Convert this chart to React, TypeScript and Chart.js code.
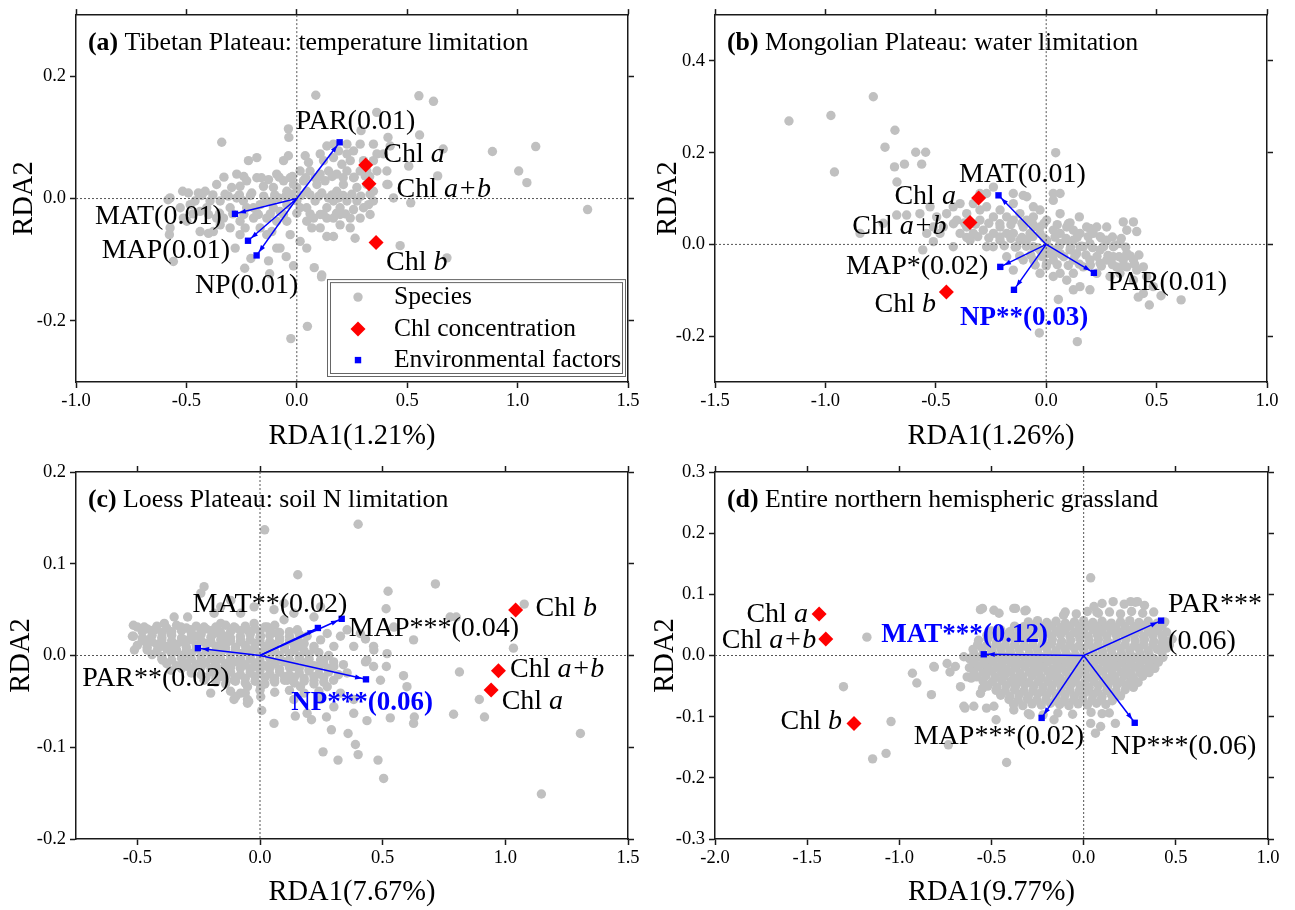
import React, { useEffect, useRef } from "react";
import { Chart, registerables } from "chart.js";

Chart.register(...registerables);

type Pt = [number, number];
type Seg = { t: string; i?: boolean; b?: boolean };
type Lab = { segs: Seg[]; x: number; y: number; align: "left" | "right"; blue?: boolean };

const FONT = '"Liberation Serif", "Times New Roman", serif';
const W = 1295;
const H = 910;
const BLUE = "#0000ff";
const RED = "#ff0000";
const GRAY = "#c0c0c0";

// ---------------- Panel (a) Tibetan Plateau ----------------
const xTicksA = [-1.0, -0.5, 0.0, 0.5, 1.0, 1.5];
const yTicksA = [-0.2, 0.0, 0.2];
const chlA: Pt[] = [[0.312, 0.055], [0.327, 0.024], [0.359, -0.072]];
const envNamesA = ["PAR", "MAT", "MAP", "NP"];
const envA: Pt[] = [[0.194, 0.092], [-0.28, -0.025], [-0.221, -0.069], [-0.182, -0.093]];
const speciesA: Pt[] = [
  [0.086, 0.169], [0.553, 0.168], [0.619, 0.159], [0.362, 0.141], [-0.038, 0.114], [-0.036, 0.1], [-0.34, 0.092],
  [0.291, 0.111], [0.413, 0.1], [0.556, 0.104], [0.663, 0.081], [0.886, 0.077], [1.082, 0.085], [1.005, 0.045],
  [1.042, 0.026], [1.317, -0.018], [0.516, -0.007], [0.507, 0.053], [0.638, 0.037], [0.413, 0.023], [0.68, -0.097],
  [0.468, -0.077], [0.264, -0.065], [0.112, -0.128], [0.048, -0.209], [-0.027, -0.229], [-0.048, -0.095],
  [-0.123, -0.123], [-0.236, -0.114], [-0.574, -0.048], [-0.583, -0.002], [-0.517, 0.012], [-0.559, -0.103],
  [-0.577, -0.059], [-0.574, 0.001],
  [-0.446, 0.009], [-0.415, 0.012], [-0.363, 0.023], [-0.347, -0.004], [-0.295, 0.018], [-0.272, 0.04], [-0.257, 0.02],
  [-0.227, 0.029], [-0.204, 0.009], [-0.181, 0.034], [-0.151, 0.02], [-0.128, 0.031], [-0.106, 0.018], [-0.091, 0.04],
  [-0.06, 0.029], [-0.045, 0.012], [-0.03, 0.034], [-0.015, 0.023], [0.015, 0.045], [0.03, 0.029], [0.045, 0.012],
  [0.06, 0.045], [0.091, 0.023], [0.106, 0.04], [0.121, 0.062], [0.144, 0.045], [0.166, 0.067], [0.181, 0.04],
  [0.204, 0.056], [0.227, 0.045], [0.242, 0.062], [0.257, 0.034], [0.272, 0.018], [0.287, 0.045], [0.317, 0.023],
  [0.347, -0.004], [0.227, -0.004], [0.196, -0.015], [0.166, -0.004], [0.136, -0.015], [0.106, -0.026], [0.076, -0.032],
  [0.045, -0.015], [0.015, -0.015], [-0.045, -0.01], [-0.076, -0.021], [-0.106, -0.015], [-0.136, -0.004],
  [-0.166, -0.01], [-0.196, -0.015], [-0.227, -0.015], [-0.257, -0.037], [-0.302, -0.015], [-0.332, -0.032],
  [-0.363, -0.032], [-0.408, -0.015], [-0.438, -0.021], [-0.483, -0.01], [-0.514, -0.032], [-0.4, -0.057],
  [-0.347, -0.043], [-0.196, -0.032], [-0.166, -0.048], [-0.136, -0.059], [-0.113, -0.054], [-0.091, -0.037],
  [-0.076, -0.081], [-0.03, -0.059], [-0.045, -0.037], [0.045, -0.037], [0.068, -0.048], [0.106, -0.048],
  [0.166, -0.032], [0.196, -0.026], [0.242, -0.032], [0.196, -0.043], [0.242, -0.048], [0.332, 0.007], [0.325, -0.01],
  [0.363, 0.045], [0.408, 0.045], [0.393, 0.073], [0.423, 0.086], [0.166, 0.089], [0.189, 0.078], [0.038, 0.07],
  [0.053, 0.059], [-0.038, 0.07], [-0.06, 0.062], [-0.181, 0.067], [-0.219, 0.062], [0.332, -0.026], [0.136, -0.062],
  [0.166, -0.062], [-0.015, -0.11], [0.079, -0.113], [0.113, -0.125], [-0.128, -0.102], [-0.208, -0.098],
  [-0.279, -0.081], [-0.378, -0.054], [-0.498, -0.037], [-0.438, -0.054], [-0.257, -0.059], [-0.302, -0.048],
  [-0.091, -0.081], [0.015, -0.07], [0.045, -0.081], [0.408, 0.023], [0.438, 0.001], [0.347, 0.012], [0.302, 0.062],
  [0.31, 0.037], [0.257, 0.078], [0.287, 0.089], [0.347, 0.089], [0.227, 0.073],
  [-0.083, 0.001], [-0.023, 0.007], [0.0, -0.004], [0.083, -0.004], [0.113, 0.009], [0.143, 0.001], [0.181, 0.012],
  [0.211, 0.023], [0.249, 0.007], [0.272, -0.004], [0.302, -0.015], [0.128, 0.029], [0.083, 0.034], [0.0, 0.018],
  [-0.113, -0.004], [-0.272, 0.001], [-0.325, 0.007], [-0.393, -0.004], [-0.461, -0.004], [-0.528, -0.015],
  [-0.491, 0.009], [-0.242, -0.004], [-0.174, -0.026], [-0.136, -0.032], [-0.234, -0.048], [0.189, 0.001],
  [0.257, -0.018], [0.287, -0.032], [0.136, -0.032], [0.106, 0.073], [0.136, 0.086], [0.227, 0.089], [0.317, 0.045],
  [0.347, 0.062], [0.363, 0.073],
  [-0.43, 0.005], [-0.38, 0.006], [-0.31, 0.004], [-0.26, 0.006], [-0.21, 0.005], [-0.15, 0.004], [-0.1, 0.006],
  [-0.05, 0.004], [0.02, 0.005], [0.06, 0.006], [0.1, 0.004], [0.16, 0.006], [0.21, 0.005], [0.29, 0.004],
  [-0.47, -0.025], [-0.4, -0.026], [-0.35, -0.024], [-0.29, -0.025], [-0.24, -0.026], [-0.18, -0.024],
  [-0.12, -0.025], [-0.06, -0.026], [0.0, -0.024], [0.06, -0.025], [0.12, -0.026], [0.18, -0.024], [0.22, -0.025],
  [-0.33, 0.035], [-0.24, 0.036], [-0.16, 0.034], [-0.08, 0.035], [-0.02, 0.036], [0.04, 0.034], [0.1, 0.035],
  [0.16, 0.036], [0.21, 0.034], [0.26, 0.035], [0.33, 0.036],
];

// ---------------- Panel (b) Mongolian Plateau ----------------
const xTicksB = [-1.5, -1.0, -0.5, 0.0, 0.5, 1.0];
const yTicksB = [-0.2, 0.0, 0.2, 0.4];
const chlB: Pt[] = [[-0.306, 0.101], [-0.345, 0.048], [-0.452, -0.104]];
const envNamesB = ["MAT", "MAP", "NP", "PAR"];
const envB: Pt[] = [[-0.216, 0.107], [-0.208, -0.049], [-0.146, -0.099], [0.216, -0.062]];
const speciesB: Pt[] = [
  [-1.165, 0.269], [-0.975, 0.281], [-0.783, 0.322], [-0.959, 0.158], [-0.685, 0.249], [-0.73, 0.212], [-0.591, 0.201],
  [-0.546, 0.201], [-0.642, 0.175], [-0.687, 0.169], [-0.564, 0.175], [-0.676, 0.136], [0.043, 0.2], [0.141, -0.212],
  [0.055, -0.12], [-0.031, -0.193], [0.611, -0.121], [0.52, -0.112], [0.467, -0.132], [0.417, -0.115], [0.395, 0.049],
  [0.41, 0.028], [-0.843, 0.024],
  [-0.677, 0.064], [-0.632, 0.064], [-0.572, 0.067], [-0.526, 0.082], [-0.496, 0.06], [-0.541, 0.024], [-0.511, 0.006],
  [-0.559, -0.012], [-0.451, 0.067], [-0.421, 0.082], [-0.39, 0.089], [-0.36, 0.067], [-0.33, 0.089], [-0.3, 0.075],
  [-0.39, 0.024], [-0.33, 0.024], [-0.3, 0.053], [-0.27, 0.082], [-0.239, 0.06], [-0.209, 0.038], [-0.179, 0.024],
  [-0.149, 0.089], [-0.119, 0.067], [-0.088, 0.104], [-0.104, 0.038], [-0.073, 0.024], [-0.058, 0.06], [-0.028, 0.038],
  [0.002, 0.053], [0.032, 0.031], [0.063, 0.024], [0.093, 0.038], [0.108, 0.047], [0.15, 0.06], [0.123, 0.009],
  [0.063, 0.002], [0.032, -0.012], [-0.028, -0.012], [-0.058, -0.005], [-0.088, 0.009], [-0.134, -0.005],
  [-0.179, -0.027], [-0.149, -0.056], [-0.104, -0.034], [-0.058, -0.034], [-0.028, -0.063], [0.002, -0.041],
  [0.032, -0.034], [0.063, -0.02], [0.108, -0.012], [0.138, -0.02], [0.168, -0.005], [0.198, 0.002], [0.213, 0.024],
  [0.244, 0.017], [0.274, 0.009], [0.304, -0.005], [0.334, 0.002], [0.365, -0.02], [0.349, -0.034], [0.395, -0.034],
  [0.41, -0.056], [0.44, -0.049], [0.455, -0.07], [0.485, -0.092], [0.274, -0.034], [0.244, -0.041], [0.198, -0.034],
  [0.168, -0.049], [0.123, -0.063], [0.093, -0.078], [0.153, -0.092], [0.198, -0.099], [0.123, -0.099], [0.063, -0.063],
  [0.032, -0.07], [0.229, 0.038], [0.274, 0.038], [0.365, 0.031], [0.198, 0.035], [0.349, 0.049], [-0.481, 0.024],
  [-0.421, -0.005], [-0.345, 0.009], [-0.27, -0.005], [-0.239, 0.024], [-0.209, 0.075], [-0.27, 0.111],
  [-0.239, 0.125], [-0.104, 0.107], [0.032, 0.111], [0.063, 0.111], [0.032, 0.096], [-0.058, 0.082], [-0.149, 0.053],
  [0.289, -0.07], [0.334, -0.063], [0.395, -0.078], [0.44, -0.107], [0.063, 0.067], [-0.028, 0.075], [0.123, 0.031],
  [-0.738, 0.046], [-0.511, 0.038],
  [-0.028, 0.024], [0.002, 0.009], [-0.058, 0.038], [-0.088, 0.053], [-0.149, 0.024], [-0.119, 0.009], [0.002, -0.02],
  [0.093, 0.009], [0.153, 0.024], [0.183, 0.038], [0.123, -0.034], [0.153, -0.005], [0.244, -0.012], [0.304, -0.027],
  [0.319, -0.049], [0.365, -0.049], [0.229, -0.063], [-0.209, 0.009], [-0.285, 0.031], [-0.36, 0.038], [-0.405, 0.053],
  [-0.466, 0.038], [-0.179, 0.06], [-0.149, 0.111], [-0.3, 0.111],
  [-0.42, 0.045], [-0.37, 0.047], [-0.32, 0.044], [-0.26, 0.046], [-0.21, 0.045], [-0.16, 0.043], [-0.11, 0.046],
  [-0.06, 0.044], [-0.01, 0.046], [0.05, 0.043], [0.1, 0.045],
  [-0.36, 0.015], [-0.31, 0.017], [-0.26, 0.014], [-0.21, 0.016], [-0.16, 0.013], [-0.11, 0.015], [-0.06, 0.017],
  [-0.01, 0.014], [0.04, 0.016], [0.09, 0.013], [0.14, 0.015], [0.19, 0.017], [0.25, 0.014], [0.3, 0.016],
  [0.34, 0.013],
  [-0.24, -0.005], [-0.19, -0.003], [-0.14, -0.006], [-0.09, -0.004], [-0.04, -0.007], [0.01, -0.005],
  [0.06, -0.003], [0.11, -0.006], [0.16, -0.004], [0.21, -0.007], [0.26, -0.005], [0.31, -0.003], [0.36, -0.006],
  [-0.12, -0.025], [-0.07, -0.023], [-0.02, -0.026], [0.03, -0.024], [0.08, -0.027], [0.13, -0.025],
  [0.18, -0.023], [0.23, -0.026], [0.28, -0.024], [0.33, -0.027], [0.38, -0.025], [0.42, -0.023],
  [-0.05, -0.045], [0.0, -0.047], [0.05, -0.044], [0.1, -0.046], [0.15, -0.043], [0.2, -0.045], [0.25, -0.047],
  [0.3, -0.044], [0.35, -0.046], [0.4, -0.043],
];

// ---------------- Panel (c) Loess Plateau ----------------
const xTicksC = [-0.5, 0.0, 0.5, 1.0, 1.5];
const yTicksC = [-0.2, -0.1, 0.0, 0.1, 0.2];
const chlC: Pt[] = [[0.942, -0.0375], [0.972, -0.0165], [1.042, 0.0495]];
const envNamesC = ["PAR", "MAT", "MAP", "NP"];
const envC: Pt[] = [[-0.253, 0.008], [0.236, 0.03], [0.333, 0.04], [0.432, -0.026]];
const speciesC: Pt[] = [
  [0.019, 0.137], [0.4, 0.143], [0.154, 0.088], [0.715, 0.078], [0.522, 0.07], [0.514, 0.051], [-0.228, 0.075],
  [1.077, 0.056], [1.033, 0.008], [0.813, -0.018], [0.585, -0.022], [0.789, -0.064], [0.894, -0.048], [0.915, -0.067],
  [1.306, -0.085], [0.629, -0.067], [0.626, -0.074], [0.436, -0.071], [0.504, -0.134], [0.481, -0.114], [0.4, -0.108],
  [0.389, -0.097], [0.359, -0.085], [0.291, -0.081], [0.318, -0.114], [0.257, -0.105], [0.21, -0.07], [0.271, -0.067],
  [0.057, -0.074], [0.007, -0.06], [-0.051, -0.048], [-0.099, -0.045], [1.147, -0.151], [0.531, -0.068],
  [0.144, -0.066], [0.8, 0.042], [0.43, -0.007], [0.515, -0.012], [0.464, 0.006], [0.43, 0.018], [-0.046, -0.05],
  [-0.516, 0.033], [-0.516, 0.021], [-0.512, 0.006], [-0.472, 0.031], [-0.458, 0.017], [-0.431, 0.028], [-0.404, 0.01],
  [-0.397, -0.005], [-0.39, 0.035], [-0.363, 0.024], [-0.35, 0.01], [-0.322, 0.031], [-0.309, 0.017], [-0.295, 0.002],
  [-0.282, 0.028], [-0.255, 0.021], [-0.228, 0.031], [-0.214, 0.013], [-0.187, 0.024], [-0.16, 0.035], [-0.16, 0.01],
  [-0.133, 0.021], [-0.106, 0.031], [-0.079, 0.017], [-0.051, 0.028], [-0.038, 0.006], [-0.024, 0.035], [0.003, 0.021],
  [0.03, 0.031], [0.043, 0.01], [0.07, 0.024], [0.098, 0.039], [0.125, 0.017], [0.152, 0.028], [0.165, 0.01],
  [0.192, 0.021], [0.22, 0.042], [0.247, 0.017], [0.274, 0.024], [0.301, 0.01], [0.328, 0.021], [0.355, 0.028],
  [0.382, 0.01], [0.409, 0.024], [0.436, -0.005], [0.463, -0.012], [-0.295, -0.012], [-0.241, -0.009], [-0.187, -0.005],
  [-0.133, -0.012], [-0.079, -0.005], [-0.024, -0.012], [0.03, -0.012], [0.084, -0.005], [0.138, -0.012],
  [0.192, -0.009], [0.247, -0.005], [0.301, -0.012], [0.355, -0.019], [-0.16, -0.023], [-0.106, -0.027],
  [-0.051, -0.034], [0.003, -0.034], [0.057, -0.027], [0.111, -0.027], [0.165, -0.034], [0.22, -0.027], [0.274, -0.034],
  [0.328, -0.041], [0.382, -0.048], [-0.079, -0.041], [0.003, -0.045], [0.138, -0.048], [0.247, -0.048], [0.301, -0.056],
  [0.192, -0.063], [0.382, -0.063], [-0.322, -0.012], [-0.363, -0.016], [-0.228, -0.027], [-0.201, -0.041],
  [-0.106, -0.048], [-0.051, -0.052], [-0.241, 0.068], [-0.16, 0.053], [-0.119, 0.06], [-0.079, 0.046], [-0.024, 0.053],
  [0.057, 0.05], [0.098, 0.057], [0.138, 0.046], [0.247, 0.053], [-0.187, 0.046], [-0.295, 0.042], [-0.35, 0.042],
  [0.545, 0.031], [0.518, 0.002], [0.463, 0.01], [0.491, -0.027], [0.626, 0.017], [0.599, -0.034], [0.775, 0.042],
  [-0.5, 0.031], [-0.46, 0.029], [-0.42, 0.032], [-0.38, 0.03], [-0.34, 0.033], [-0.3, 0.03], [-0.26, 0.032],
  [-0.22, 0.029], [-0.18, 0.031], [-0.14, 0.033], [-0.1, 0.03], [-0.06, 0.032], [-0.02, 0.029], [0.02, 0.031],
  [0.06, 0.033],
  [-0.52, 0.021], [-0.48, 0.019], [-0.44, 0.022], [-0.4, 0.02], [-0.36, 0.022], [-0.32, 0.019], [-0.28, 0.021],
  [-0.24, 0.023], [-0.2, 0.02], [-0.16, 0.022], [-0.12, 0.019], [-0.08, 0.021], [-0.04, 0.023], [0.0, 0.02],
  [0.04, 0.022], [0.08, 0.019], [0.12, 0.021], [0.16, 0.023],
  [-0.5, 0.011], [-0.46, 0.009], [-0.42, 0.012], [-0.38, 0.01], [-0.34, 0.012], [-0.3, 0.009], [-0.26, 0.011],
  [-0.22, 0.013], [-0.18, 0.01], [-0.14, 0.012], [-0.1, 0.009], [-0.06, 0.011], [-0.02, 0.013], [0.02, 0.01],
  [0.06, 0.012], [0.1, 0.009], [0.14, 0.011], [0.18, 0.013], [0.22, 0.01],
  [-0.44, 0.001], [-0.4, -0.001], [-0.36, 0.002], [-0.32, 0.0], [-0.28, 0.002], [-0.24, -0.001], [-0.2, 0.001],
  [-0.16, 0.003], [-0.12, 0.0], [-0.08, 0.002], [-0.04, -0.001], [0.0, 0.001], [0.04, 0.003], [0.08, 0.0],
  [0.12, 0.002], [0.16, -0.001], [0.2, 0.001], [0.24, 0.003], [0.28, 0.0],
  [-0.38, -0.009], [-0.34, -0.011], [-0.3, -0.008], [-0.26, -0.01], [-0.22, -0.008], [-0.18, -0.011], [-0.14, -0.009],
  [-0.1, -0.007], [-0.06, -0.01], [-0.02, -0.008], [0.02, -0.011], [0.06, -0.009], [0.1, -0.007], [0.14, -0.01],
  [0.18, -0.008], [0.22, -0.011], [0.26, -0.009], [0.3, -0.007], [0.34, -0.01],
  [-0.28, -0.019], [-0.24, -0.021], [-0.2, -0.018], [-0.16, -0.02], [-0.12, -0.018], [-0.08, -0.021], [-0.04, -0.019],
  [0.0, -0.017], [0.04, -0.02], [0.08, -0.018], [0.12, -0.021], [0.16, -0.019], [0.2, -0.017], [0.24, -0.02],
  [0.28, -0.018], [0.32, -0.021],
  [-0.18, -0.029], [-0.14, -0.031], [-0.1, -0.028], [-0.06, -0.03], [-0.02, -0.028], [0.02, -0.031], [0.06, -0.029],
  [0.1, -0.027], [0.14, -0.03], [0.18, -0.028], [0.22, -0.031], [0.26, -0.029], [0.3, -0.027],
  [-0.12, -0.039], [-0.06, -0.041], [0.0, -0.038], [0.06, -0.04], [0.12, -0.038], [0.18, -0.041], [0.24, -0.039],
  [-0.48, 0.026], [-0.44, 0.027], [-0.4, 0.025], [-0.36, 0.026], [-0.32, 0.027], [-0.28, 0.025], [-0.24, 0.026],
  [-0.2, 0.027], [-0.16, 0.025], [-0.12, 0.026], [-0.08, 0.027], [-0.04, 0.025], [0.0, 0.026], [0.04, 0.027],
  [0.08, 0.025], [0.12, 0.026],
  [-0.48, 0.016], [-0.44, 0.015], [-0.4, 0.017], [-0.36, 0.016], [-0.32, 0.015], [-0.28, 0.017], [-0.24, 0.016],
  [-0.2, 0.015], [-0.16, 0.017], [-0.12, 0.016], [-0.08, 0.015], [-0.04, 0.017], [0.0, 0.016], [0.04, 0.015],
  [0.08, 0.017], [0.12, 0.016], [0.16, 0.015],
  [-0.46, 0.006], [-0.42, 0.005], [-0.38, 0.007], [-0.34, 0.006], [-0.3, 0.005], [-0.26, 0.007], [-0.22, 0.006],
  [-0.18, 0.005], [-0.14, 0.007], [-0.1, 0.006], [-0.06, 0.005], [-0.02, 0.007], [0.02, 0.006], [0.06, 0.005],
  [0.1, 0.007], [0.14, 0.006], [0.18, 0.005], [0.22, 0.007],
  [-0.4, -0.004], [-0.36, -0.005], [-0.32, -0.003], [-0.28, -0.004], [-0.24, -0.005], [-0.2, -0.003], [-0.16, -0.004],
  [-0.12, -0.005], [-0.08, -0.003], [-0.04, -0.004], [0.0, -0.005], [0.04, -0.003], [0.08, -0.004], [0.12, -0.005],
  [0.16, -0.003], [0.2, -0.004], [0.26, -0.005],
  [-0.32, -0.014], [-0.28, -0.015], [-0.24, -0.013], [-0.2, -0.014], [-0.16, -0.015], [-0.12, -0.013], [-0.08, -0.014],
  [-0.04, -0.015], [0.0, -0.013], [0.04, -0.014], [0.08, -0.015], [0.12, -0.013], [0.16, -0.014], [0.2, -0.015],
  [0.24, -0.013], [0.28, -0.014],
  [-0.22, -0.024], [-0.18, -0.025], [-0.14, -0.023], [-0.1, -0.024], [-0.06, -0.025], [-0.02, -0.023], [0.02, -0.024],
  [0.06, -0.025], [0.1, -0.023], [0.14, -0.024], [0.18, -0.025], [0.22, -0.023], [0.26, -0.024],
];

// ---------------- Panel (d) Entire northern hemispheric grassland ----------------
const xTicksD = [-2.0, -1.5, -1.0, -0.5, 0.0, 0.5, 1.0];
const yTicksD = [-0.3, -0.2, -0.1, 0.0, 0.1, 0.2, 0.3];
const chlD: Pt[] = [[-1.435, 0.068], [-1.399, 0.027], [-1.246, -0.111]];
const envNamesD = ["MAT", "PAR", "MAP", "NP"];
const envD: Pt[] = [[-0.542, 0.002], [0.42, 0.057], [-0.228, -0.102], [0.277, -0.11]];
const speciesD: Pt[] = [
  [0.038, 0.127], [-0.56, 0.075], [-0.487, 0.074], [-0.379, 0.077], [-0.319, 0.073], [-1.176, 0.03], [-1.303, -0.051],
  [-1.045, -0.108], [-1.072, -0.16], [-1.145, -0.169], [-0.418, -0.175], [-0.734, -0.146], [-0.929, -0.029],
  [-0.905, -0.045], [-0.826, -0.064], [-0.81, -0.019], [-0.725, -0.027], [-0.696, -0.018], [-0.61, -0.037],
  [-0.644, -0.086], [-0.527, -0.086], [-0.549, -0.054], [-0.475, -0.105], [-0.29, -0.097], [-0.105, -0.075],
  [0.064, -0.127], [0.172, -0.111], [0.139, -0.094], [0.255, -0.043], [0.292, 0.088], [0.071, 0.071], [-0.109, 0.066],
  [-0.312, 0.074], [-0.37, 0.077], [-0.459, 0.069], [-0.549, 0.077], [0.386, -0.021], [0.443, 0.014], [0.443, 0.024],
  [-0.813, -0.018], [-0.741, -0.013], [-0.65, -0.002], [-0.632, -0.035], [-0.668, -0.051], [-0.56, -0.062],
  [-0.487, -0.083], [0.038, -0.111], [0.092, -0.116], [-0.161, -0.105], [-0.379, -0.089], [-0.65, -0.083],
  [-0.596, -0.083], [0.255, 0.088], [0.056, 0.08],
  [0.1, 0.085], [0.16, 0.088], [0.22, 0.084], [0.28, 0.087], [0.33, 0.082],
  [-0.1, 0.071], [-0.04, 0.068], [0.02, 0.072], [0.08, 0.069], [0.14, 0.071], [0.2, 0.068], [0.26, 0.072],
  [0.32, 0.069], [0.38, 0.071],
  [-0.3, 0.055], [-0.25, 0.057], [-0.2, 0.054], [-0.15, 0.056], [-0.1, 0.053], [-0.05, 0.055], [0.0, 0.057],
  [0.05, 0.054], [0.1, 0.056], [0.15, 0.053], [0.2, 0.055], [0.25, 0.057], [0.3, 0.054], [0.35, 0.056], [0.4, 0.053],
  [0.44, 0.055],
  [-0.5, 0.04], [-0.45, 0.042], [-0.4, 0.039], [-0.35, 0.041], [-0.3, 0.038], [-0.25, 0.04], [-0.2, 0.042],
  [-0.15, 0.039], [-0.1, 0.041], [-0.05, 0.038], [0.0, 0.04], [0.05, 0.042], [0.1, 0.039], [0.15, 0.041],
  [0.2, 0.038], [0.25, 0.04], [0.3, 0.042], [0.35, 0.039], [0.4, 0.041], [0.45, 0.038],
  [-0.57, 0.025], [-0.52, 0.027], [-0.47, 0.024], [-0.42, 0.026], [-0.37, 0.023], [-0.32, 0.025], [-0.27, 0.027],
  [-0.22, 0.024], [-0.17, 0.026], [-0.12, 0.023], [-0.07, 0.025], [-0.02, 0.027], [0.03, 0.024], [0.08, 0.026],
  [0.13, 0.023], [0.18, 0.025], [0.23, 0.027], [0.28, 0.024], [0.33, 0.026], [0.38, 0.023], [0.43, 0.025],
  [0.48, 0.027],
  [-0.6, 0.01], [-0.55, 0.012], [-0.5, 0.009], [-0.45, 0.011], [-0.4, 0.008], [-0.35, 0.01], [-0.3, 0.012],
  [-0.25, 0.009], [-0.2, 0.011], [-0.15, 0.008], [-0.1, 0.01], [-0.05, 0.012], [0.0, 0.009], [0.05, 0.011],
  [0.1, 0.008], [0.15, 0.01], [0.2, 0.012], [0.25, 0.009], [0.3, 0.011], [0.35, 0.008], [0.4, 0.01], [0.45, 0.012],
  [-0.62, -0.005], [-0.57, -0.003], [-0.52, -0.006], [-0.47, -0.004], [-0.42, -0.007], [-0.37, -0.005],
  [-0.32, -0.003], [-0.27, -0.006], [-0.22, -0.004], [-0.17, -0.007], [-0.12, -0.005], [-0.07, -0.003],
  [-0.02, -0.006], [0.03, -0.004], [0.08, -0.007], [0.13, -0.005], [0.18, -0.003], [0.23, -0.006], [0.28, -0.004],
  [0.33, -0.007], [0.38, -0.005], [0.43, -0.003],
  [-0.62, -0.02], [-0.57, -0.018], [-0.52, -0.021], [-0.47, -0.019], [-0.42, -0.022], [-0.37, -0.02], [-0.32, -0.018],
  [-0.27, -0.021], [-0.22, -0.019], [-0.17, -0.022], [-0.12, -0.02], [-0.07, -0.018], [-0.02, -0.021], [0.03, -0.019],
  [0.08, -0.022], [0.13, -0.02], [0.18, -0.018], [0.23, -0.021], [0.28, -0.019], [0.33, -0.022], [0.38, -0.02],
  [-0.58, -0.035], [-0.53, -0.033], [-0.48, -0.036], [-0.43, -0.034], [-0.38, -0.037], [-0.33, -0.035],
  [-0.28, -0.033], [-0.23, -0.036], [-0.18, -0.034], [-0.13, -0.037], [-0.08, -0.035], [-0.03, -0.033],
  [0.02, -0.036], [0.07, -0.034], [0.12, -0.037], [0.17, -0.035], [0.22, -0.033], [0.27, -0.036], [0.32, -0.034],
  [-0.52, -0.05], [-0.47, -0.052], [-0.42, -0.049], [-0.37, -0.051], [-0.32, -0.048], [-0.27, -0.05], [-0.22, -0.052],
  [-0.17, -0.049], [-0.12, -0.051], [-0.07, -0.048], [-0.02, -0.05], [0.03, -0.052], [0.08, -0.049], [0.13, -0.051],
  [0.18, -0.048], [0.23, -0.05], [0.27, -0.052],
  [-0.45, -0.065], [-0.4, -0.067], [-0.35, -0.064], [-0.3, -0.066], [-0.25, -0.063], [-0.2, -0.065], [-0.15, -0.067],
  [-0.1, -0.064], [-0.05, -0.066], [0.0, -0.063], [0.05, -0.065], [0.1, -0.067], [0.15, -0.064], [0.2, -0.066],
  [-0.38, -0.08], [-0.33, -0.082], [-0.28, -0.079], [-0.23, -0.081], [-0.18, -0.078], [-0.13, -0.08], [-0.08, -0.082],
  [-0.03, -0.079], [0.02, -0.081], [0.07, -0.078], [0.12, -0.08],
  [-0.3, -0.095], [-0.22, -0.097], [-0.14, -0.094], [-0.06, -0.096], [0.04, -0.093], [0.1, -0.095],
  [-0.375, 0.048], [-0.325, 0.047], [-0.275, 0.049], [-0.225, 0.047], [-0.175, 0.048], [-0.125, 0.046],
  [-0.075, 0.048], [-0.025, 0.047], [0.025, 0.049], [0.075, 0.047], [0.125, 0.048], [0.175, 0.046], [0.225, 0.048],
  [0.275, 0.047], [0.325, 0.049], [0.375, 0.047], [0.425, 0.048],
  [-0.525, 0.033], [-0.475, 0.032], [-0.425, 0.034], [-0.375, 0.032], [-0.325, 0.033], [-0.275, 0.031],
  [-0.225, 0.033], [-0.175, 0.032], [-0.125, 0.034], [-0.075, 0.032], [-0.025, 0.033], [0.025, 0.031],
  [0.075, 0.033], [0.125, 0.032], [0.175, 0.034], [0.225, 0.032], [0.275, 0.033], [0.325, 0.031], [0.375, 0.033],
  [0.425, 0.032],
  [-0.575, 0.018], [-0.525, 0.017], [-0.475, 0.019], [-0.425, 0.017], [-0.375, 0.018], [-0.325, 0.016],
  [-0.275, 0.018], [-0.225, 0.017], [-0.175, 0.019], [-0.125, 0.017], [-0.075, 0.018], [-0.025, 0.016],
  [0.025, 0.018], [0.075, 0.017], [0.125, 0.019], [0.175, 0.017], [0.225, 0.018], [0.275, 0.016], [0.325, 0.018],
  [0.375, 0.017], [0.425, 0.019], [0.465, 0.017],
  [-0.595, 0.003], [-0.545, 0.002], [-0.495, 0.004], [-0.445, 0.002], [-0.395, 0.003], [-0.345, 0.001],
  [-0.295, 0.003], [-0.245, 0.002], [-0.195, 0.004], [-0.145, 0.002], [-0.095, 0.003], [-0.045, 0.001],
  [0.005, 0.003], [0.055, 0.002], [0.105, 0.004], [0.155, 0.002], [0.205, 0.003], [0.255, 0.001], [0.305, 0.003],
  [0.355, 0.002], [0.425, 0.004],
  [-0.595, -0.012], [-0.545, -0.013], [-0.495, -0.011], [-0.445, -0.013], [-0.395, -0.012], [-0.345, -0.014],
  [-0.295, -0.012], [-0.245, -0.013], [-0.195, -0.011], [-0.145, -0.013], [-0.095, -0.012], [-0.045, -0.014],
  [0.005, -0.012], [0.055, -0.013], [0.105, -0.011], [0.155, -0.013], [0.205, -0.012], [0.255, -0.014],
  [0.305, -0.012], [0.355, -0.013], [0.405, -0.011],
  [-0.595, -0.027], [-0.545, -0.028], [-0.495, -0.026], [-0.445, -0.028], [-0.395, -0.027], [-0.345, -0.029],
  [-0.295, -0.027], [-0.245, -0.028], [-0.195, -0.026], [-0.145, -0.028], [-0.095, -0.027], [-0.045, -0.029],
  [0.005, -0.027], [0.055, -0.028], [0.105, -0.026], [0.155, -0.028], [0.205, -0.027], [0.255, -0.029],
  [0.305, -0.027], [0.355, -0.028],
  [-0.545, -0.042], [-0.495, -0.043], [-0.445, -0.041], [-0.395, -0.043], [-0.345, -0.042], [-0.295, -0.044],
  [-0.245, -0.042], [-0.195, -0.043], [-0.145, -0.041], [-0.095, -0.043], [-0.045, -0.042], [0.005, -0.044],
  [0.055, -0.042], [0.105, -0.043], [0.155, -0.041], [0.205, -0.043], [0.255, -0.042], [0.295, -0.044],
  [-0.475, -0.057], [-0.425, -0.058], [-0.375, -0.056], [-0.325, -0.058], [-0.275, -0.057], [-0.225, -0.059],
  [-0.175, -0.057], [-0.125, -0.058], [-0.075, -0.056], [-0.025, -0.058], [0.025, -0.057], [0.075, -0.059],
  [0.125, -0.057], [0.175, -0.058], [0.225, -0.056],
  [-0.405, -0.072], [-0.355, -0.073], [-0.305, -0.071], [-0.255, -0.073], [-0.205, -0.072], [-0.155, -0.074],
  [-0.105, -0.072], [-0.055, -0.073], [-0.005, -0.071], [0.045, -0.073], [0.095, -0.072], [0.155, -0.074],
];

// ---------------- Panel text ----------------
const chlSegs: Seg[][] = [
  [{ t: "Chl " }, { t: "a", i: true }],
  [{ t: "Chl " }, { t: "a+b", i: true }],
  [{ t: "Chl " }, { t: "b", i: true }],
];

const labelsA: Lab[] = [
  { segs: [{ t: "PAR(0.01)" }], x: -0.005, y: 0.126, align: "left" },
  { segs: chlSegs[0], x: 0.392, y: 0.071, align: "left" },
  { segs: chlSegs[1], x: 0.452, y: 0.015, align: "left" },
  { segs: chlSegs[2], x: 0.404, y: -0.105, align: "left" },
  { segs: [{ t: "MAT(0.01)" }], x: -0.34, y: -0.029, align: "right" },
  { segs: [{ t: "MAP(0.01)" }], x: -0.3025, y: -0.085, align: "right" },
  { segs: [{ t: "NP(0.01)" }], x: 0.007, y: -0.142, align: "right" },
];
const labelsB: Lab[] = [
  { segs: [{ t: "MAT(0.01)" }], x: -0.395, y: 0.152, align: "left" },
  { segs: chlSegs[0], x: -0.409, y: 0.105, align: "right" },
  { segs: chlSegs[1], x: -0.451, y: 0.038, align: "right" },
  { segs: [{ t: "MAP*(0.02)" }], x: -0.262, y: -0.049, align: "right" },
  { segs: chlSegs[2], x: -0.499, y: -0.132, align: "right" },
  { segs: [{ t: "NP**(0.03)", b: true }], x: -0.39, y: -0.161, align: "left", blue: true },
  { segs: [{ t: "PAR(0.01)" }], x: 0.278, y: -0.083, align: "left" },
];
const labelsC: Lab[] = [
  { segs: [{ t: "MAT**(0.02)" }], x: -0.275, y: 0.055, align: "left" },
  { segs: [{ t: "MAP***(0.04)" }], x: 0.362, y: 0.0296, align: "left" },
  { segs: [{ t: "PAR**(0.02)" }], x: -0.725, y: -0.0248, align: "left" },
  { segs: [{ t: "NP***(0.06)", b: true }], x: 0.127, y: -0.0513, align: "left", blue: true },
  { segs: chlSegs[2], x: 1.123, y: 0.0513, align: "left" },
  { segs: chlSegs[1], x: 1.019, y: -0.0158, align: "left" },
  { segs: chlSegs[0], x: 0.985, y: -0.0502, align: "left" },
];
const labelsD: Lab[] = [
  { segs: chlSegs[0], x: -1.496, y: 0.066, align: "right" },
  { segs: chlSegs[1], x: -1.451, y: 0.024, align: "right" },
  { segs: chlSegs[2], x: -1.311, y: -0.108, align: "right" },
  { segs: [{ t: "MAT***(0.12)", b: true }], x: -0.194, y: 0.033, align: "right", blue: true },
  { segs: [{ t: "PAR***" }], x: 0.458, y: 0.0824, align: "left" },
  { segs: [{ t: "(0.06)" }], x: 0.458, y: 0.0226, align: "left" },
  { segs: [{ t: "MAP***(0.02)" }], x: -0.922, y: -0.1325, align: "left" },
  { segs: [{ t: "NP***(0.06)" }], x: 0.147, y: -0.149, align: "left" },
];

type Spec = {
  box: { l: number; r: number; t: number; b: number; wy: number; hx: number };
  xMin: number; xMax: number; yMin: number; yMax: number;
  xTicks: number[]; yTicks: number[];
  xTitle: string;
  species: Pt[]; chl: Pt[]; env: Pt[]; envNames: string[];
  labels: Lab[];
  title: Seg[];
  legend: boolean;
};

const specs: Spec[] = [
  {
    box: { l: 76, r: 628, t: 14, b: 382, wy: 69, hx: 72 },
    xMin: -1.0, xMax: 1.5, yMin: -0.3, yMax: 0.3, xTicks: xTicksA, yTicks: yTicksA,
    xTitle: "RDA1(1.21%)", species: speciesA, chl: chlA, env: envA, envNames: envNamesA, labels: labelsA,
    title: [{ t: "(a)", b: true }, { t: " Tibetan Plateau: temperature limitation" }], legend: true,
  },
  {
    box: { l: 715, r: 1267, t: 14, b: 382, wy: 64, hx: 72 },
    xMin: -1.5, xMax: 1.0, yMin: -0.3, yMax: 0.5, xTicks: xTicksB, yTicks: yTicksB,
    xTitle: "RDA1(1.26%)", species: speciesB, chl: chlB, env: envB, envNames: envNamesB, labels: labelsB,
    title: [{ t: "(b)", b: true }, { t: " Mongolian Plateau: water limitation" }], legend: false,
  },
  {
    box: { l: 76, r: 628, t: 472, b: 839, wy: 72, hx: 71 },
    xMin: -0.75, xMax: 1.5, yMin: -0.2, yMax: 0.2, xTicks: xTicksC, yTicks: yTicksC,
    xTitle: "RDA1(7.67%)", species: speciesC, chl: chlC, env: envC, envNames: envNamesC, labels: labelsC,
    title: [{ t: "(c)", b: true }, { t: " Loess Plateau: soil N limitation" }], legend: false,
  },
  {
    box: { l: 715, r: 1268, t: 472, b: 839, wy: 67, hx: 71 },
    xMin: -2.0, xMax: 1.0, yMin: -0.3, yMax: 0.3, xTicks: xTicksD, yTicks: yTicksD,
    xTitle: "RDA1(9.77%)", species: speciesD, chl: chlD, env: envD, envNames: envNamesD, labels: labelsD,
    title: [{ t: "(d)", b: true }, { t: " Entire northern hemispheric grassland" }], legend: false,
  },
];

function drawRich(ctx: CanvasRenderingContext2D, segs: Seg[], x: number, y: number, align: string, size: number, color: string) {
  const fonts = segs.map((s) => `${s.i ? "italic " : ""}${s.b ? "bold " : ""}${size}px ${FONT}`);
  const widths = segs.map((s, k) => {
    ctx.font = fonts[k];
    return ctx.measureText(s.t).width;
  });
  const total = widths.reduce((a, b) => a + b, 0);
  let cx = align === "right" ? x - total : align === "center" ? x - total / 2 : x;
  ctx.textAlign = "left";
  ctx.textBaseline = "middle";
  ctx.fillStyle = color;
  segs.forEach((s, k) => {
    ctx.font = fonts[k];
    ctx.fillText(s.t, cx, y);
    cx += widths[k];
  });
}

function makePlugin(spec: Spec) {
  return {
    id: "rdaDeco",
    afterDatasetDraw(chart: any, args: any) {
      if (args.index !== 2) return;
      const { ctx, chartArea: ca, scales } = chart;
      const xs = scales.x;
      const ys = scales.y;
      const x0 = xs.getPixelForValue(0);
      const y0 = ys.getPixelForValue(0);
      ctx.save();
      ctx.strokeStyle = "#555";
      ctx.lineWidth = 1;
      ctx.setLineDash([2, 2]);
      ctx.beginPath();
      ctx.moveTo(ca.left, y0);
      ctx.lineTo(ca.right, y0);
      ctx.moveTo(x0, ca.top);
      ctx.lineTo(x0, ca.bottom);
      ctx.stroke();
      ctx.setLineDash([]);
      ctx.strokeStyle = BLUE;
      ctx.fillStyle = BLUE;
      ctx.lineWidth = 1.5;
      spec.env.forEach(([vx, vy]) => {
        const ex = xs.getPixelForValue(vx);
        const ey = ys.getPixelForValue(vy);
        ctx.beginPath();
        ctx.moveTo(x0, y0);
        ctx.lineTo(ex, ey);
        ctx.stroke();
        const ang = Math.atan2(ey - y0, ex - x0);
        const c = Math.cos(ang);
        const s = Math.sin(ang);
        const tx = ex - c * 4;
        const ty = ey - s * 4;
        const bx = tx - c * 7;
        const by = ty - s * 7;
        ctx.beginPath();
        ctx.moveTo(tx, ty);
        ctx.lineTo(bx - s * 2.5, by + c * 2.5);
        ctx.lineTo(bx + s * 2.5, by - c * 2.5);
        ctx.closePath();
        ctx.fill();
      });
      ctx.restore();
    },
    afterDraw(chart: any) {
      const { ctx, chartArea: ca, scales } = chart;
      const xs = scales.x;
      const ys = scales.y;
      ctx.save();
      spec.labels.forEach((lb) => {
        const size = lb.segs.some((s) => s.b) ? 27 : 28;
        drawRich(ctx, lb.segs, xs.getPixelForValue(lb.x), ys.getPixelForValue(lb.y), lb.align, size, lb.blue ? BLUE : "#000");
      });
      drawRich(ctx, spec.title, ca.left + 12, ca.top + 28, "left", 25.8, "#000");
      if (spec.legend) {
        const L = ca.left + 251;
        const R = ca.right - 2;
        const T = ca.top + 264;
        const B = ca.bottom - 5;
        ctx.fillStyle = "#fff";
        ctx.fillRect(L, T, R - L, B - T);
        ctx.strokeStyle = "#666";
        ctx.lineWidth = 1;
        ctx.strokeRect(L + 0.5, T + 0.5, R - L - 1, B - T - 1);
        ctx.strokeRect(L + 3.5, T + 3.5, R - L - 7, B - T - 7);
        const mx = L + 31;
        const tx = L + 67;
        const rows = [T + 18, T + 50, T + 81];
        ctx.fillStyle = GRAY;
        ctx.beginPath();
        ctx.arc(mx, rows[0], 4.7, 0, Math.PI * 2);
        ctx.fill();
        ctx.fillStyle = RED;
        ctx.beginPath();
        ctx.moveTo(mx - 7.5, rows[1]);
        ctx.lineTo(mx, rows[1] - 7.5);
        ctx.lineTo(mx + 7.5, rows[1]);
        ctx.lineTo(mx, rows[1] + 7.5);
        ctx.closePath();
        ctx.fill();
        ctx.fillStyle = BLUE;
        ctx.fillRect(mx - 3.2, rows[2] - 3.2, 6.4, 6.4);
        drawRich(ctx, [{ t: "Species" }], tx, rows[0], "left", 25.5, "#000");
        drawRich(ctx, [{ t: "Chl concentration" }], tx, rows[1], "left", 25.5, "#000");
        drawRich(ctx, [{ t: "Environmental factors" }], tx, rows[2], "left", 25.5, "#000");
      }
      ctx.restore();
    },
  };
}

function buildConfig(spec: Spec): any {
  const { box } = spec;
  const EDGE = 8;
  const tickFont = { family: FONT, size: 18.5 };
  const grid = { drawOnChartArea: false, drawTicks: true, tickLength: 6, tickColor: "#1a1a1a", tickWidth: 1.5 };
  const border = { display: true, color: "#1a1a1a", width: 1.5 };
  const setTicks = (vals: number[]) => (scale: any) => {
    scale.ticks = vals.map((v) => ({ value: v }));
  };
  const fmt = (v: any) => Number(v).toFixed(1);
  return {
    type: "scatter",
    data: {
      datasets: [
        {
          label: "Chl concentration",
          data: spec.chl.map(([x, y]) => ({ x, y })),
          pointStyle: "rectRot",
          pointRadius: 7.5,
          backgroundColor: RED,
          borderWidth: 0,
          order: 1,
        },
        {
          label: "Environmental factors",
          data: spec.env.map(([x, y]) => ({ x, y })),
          pointStyle: "rect",
          pointRadius: 4.5,
          backgroundColor: BLUE,
          borderWidth: 0,
          order: 2,
        },
        {
          label: "Species",
          data: spec.species.map(([x, y]) => ({ x, y })),
          pointStyle: "circle",
          pointRadius: 4.7,
          backgroundColor: GRAY,
          borderWidth: 0,
          order: 3,
        },
      ],
    },
    options: {
      responsive: false,
      animation: false,
      events: [],
      layout: {
        autoPadding: false,
        padding: {
          left: box.l - box.wy,
          right: W - box.r - EDGE,
          top: box.t - EDGE,
          bottom: H - box.b - box.hx,
        },
      },
      plugins: { legend: { display: false }, tooltip: { enabled: false } },
      scales: {
        x: {
          type: "linear",
          position: "bottom",
          min: spec.xMin,
          max: spec.xMax,
          afterBuildTicks: setTicks(spec.xTicks),
          afterFit: (s: any) => { s.height = box.hx; },
          ticks: { callback: fmt, font: tickFont, color: "#000", padding: 2, maxRotation: 0, autoSkip: false },
          grid,
          border,
          title: { display: true, text: spec.xTitle, font: { family: FONT, size: 28.5 }, color: "#000", padding: 0 },
        },
        xTop: {
          type: "linear",
          position: "top",
          min: spec.xMin,
          max: spec.xMax,
          afterBuildTicks: setTicks(spec.xTicks),
          afterFit: (s: any) => { s.height = EDGE; },
          ticks: { display: false },
          grid,
          border,
        },
        y: {
          type: "linear",
          position: "left",
          min: spec.yMin,
          max: spec.yMax,
          afterBuildTicks: setTicks(spec.yTicks),
          afterFit: (s: any) => { s.width = box.wy; },
          ticks: { callback: fmt, font: tickFont, color: "#000", padding: 4, autoSkip: false },
          grid,
          border,
          title: { display: true, text: "RDA2", font: { family: FONT, size: 28.5 }, color: "#000", padding: 0 },
        },
        yRight: {
          type: "linear",
          position: "right",
          min: spec.yMin,
          max: spec.yMax,
          afterBuildTicks: setTicks(spec.yTicks),
          afterFit: (s: any) => { s.width = EDGE; },
          ticks: { display: false },
          grid,
          border,
        },
      },
    },
    plugins: [makePlugin(spec)],
  };
}

function Panel({ spec }: { spec: Spec }) {
  const ref = useRef<HTMLCanvasElement>(null);
  useEffect(() => {
    const chart = new Chart(ref.current as HTMLCanvasElement, buildConfig(spec));
    return () => chart.destroy();
  }, [spec]);
  return (
    <canvas
      ref={ref}
      width={W}
      height={H}
      style={{ position: "absolute", left: 0, top: 0, width: W, height: H }}
    />
  );
}

export default function App() {
  return (
    <div style={{ position: "absolute", left: 0, top: 0, width: W, height: H, background: "#fff", overflow: "hidden" }}>
      {specs.map((s, i) => (
        <Panel key={i} spec={s} />
      ))}
    </div>
  );
}
